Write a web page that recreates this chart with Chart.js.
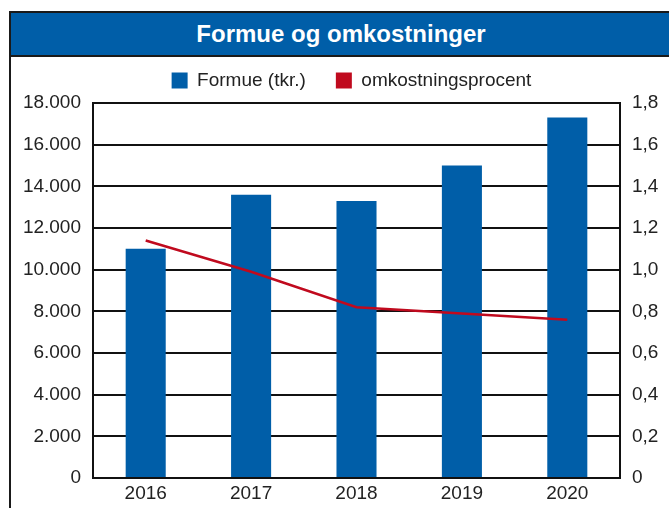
<!DOCTYPE html>
<html>
<head>
<meta charset="utf-8">
<script src="https://cdn.jsdelivr.net/npm/chart.js@4/dist/chart.umd.min.js"></script>
<style>
  html, body { margin: 0; padding: 0; background: #fff; width: 669px; height: 508px; overflow: hidden; }
  #frame { position: absolute; left: 9px; top: 11px; width: 680px; height: 520px; border-left: 2px solid #1a1a1a; border-top: 2px solid #1a1a1a; box-sizing: border-box; }
  #band { position: absolute; left: 11px; top: 13px; width: 680px; height: 42px; background: #005EA8; border-bottom: 2px solid #1a1a1a; }
  #title { position: absolute; left: 11px; top: 13px; width: 660px; height: 42px; text-align: center; color: #fff; font-family: "Liberation Sans", Arial, sans-serif; font-weight: bold; font-size: 24px; line-height: 42px; }
  canvas { position: absolute; left: 0; top: 0; }
</style>
</head>
<body>
<div id="frame"></div>
<div id="band"></div>
<div id="title">Formue og omkostninger</div>
<canvas id="c" width="669" height="508"></canvas>
<script>
const years = ['2016', '2017', '2018', '2019', '2020'];
const formue = [11000, 13600, 13300, 15000, 17300];
const omkostningsprocent = [1.14, 0.99, 0.82, 0.79, 0.76];
const leftTicks = [0, 2000, 4000, 6000, 8000, 10000, 12000, 14000, 16000, 18000];
const rightTicks = [0, 0.2, 0.4, 0.6, 0.8, 1.0, 1.2, 1.4, 1.6, 1.8];

const FONT = '"Liberation Sans", Arial, sans-serif';
const BLUE = '#005EA8';
const RED = '#C00A1E';

const legendShift = {
  id: 'legendShift',
  afterLayout(chart) {
    const l = chart.legend;
    if (l) { l.left += 17; l.right += 17; l.top -= 3; l.bottom -= 3; }
  }
};

new Chart(document.getElementById('c'), {
  data: {
    labels: years,
    datasets: [
      { type: 'bar', label: 'Formue (tkr.)', data: formue, backgroundColor: BLUE, borderWidth: 0,
        yAxisID: 'y', barPercentage: 0.38, categoryPercentage: 1.0, order: 2 },
      { type: 'line', label: 'omkostningsprocent', data: omkostningsprocent, borderColor: RED, backgroundColor: RED,
        borderWidth: 2.5, pointRadius: 0, tension: 0, yAxisID: 'y1', order: 1 }
    ]
  },
  plugins: [legendShift],
  options: {
    responsive: false,
    animation: false,
    layout: { padding: { top: 44, left: 0, right: 0, bottom: 0 } },
    plugins: {
      legend: {
        display: true,
        labels: {
          color: '#222', font: { family: FONT, size: 19 }, boxWidth: 16, boxHeight: 16, padding: 30,
          generateLabels(chart) {
            return chart.data.datasets.map((ds, i) => ({
              text: ds.label, fillStyle: ds.type === 'bar' ? BLUE : RED, strokeStyle: 'rgba(0,0,0,0)',
              lineWidth: 0, hidden: false, datasetIndex: i, fontColor: '#222'
            }));
          }
        }
      },
      tooltip: { enabled: false }
    },
    scales: {
      x: {
        grid: { display: false, drawTicks: false },
        border: { display: true, color: '#111', width: 2 },
        ticks: { color: '#222', font: { family: FONT, size: 19 }, padding: 4 },
        afterFit(s) { s.height = 30; }
      },
      y: {
        position: 'left', min: 0, max: 18000,
        afterBuildTicks(s) { s.ticks = leftTicks.map(v => ({ value: v })); },
        grid: { color: '#111', lineWidth: 2, drawTicks: false },
        border: { display: true, color: '#111', width: 2 },
        ticks: { color: '#222', font: { family: FONT, size: 19 }, padding: 12,
          callback: v => v.toLocaleString('de-DE') },
        afterFit(s) { s.width = 93; }
      },
      y1: {
        position: 'right', min: 0, max: 1.8,
        afterBuildTicks(s) { s.ticks = rightTicks.map(v => ({ value: v })); },
        grid: { display: false, drawTicks: false },
        border: { display: true, color: '#111', width: 2 },
        ticks: { color: '#222', font: { family: FONT, size: 19 }, padding: 12,
          callback: v => v === 0 ? '0' : v.toFixed(1).replace('.', ',') },
        afterFit(s) { s.width = 49; }
      }
    }
  }
});
</script>
</body>
</html>
